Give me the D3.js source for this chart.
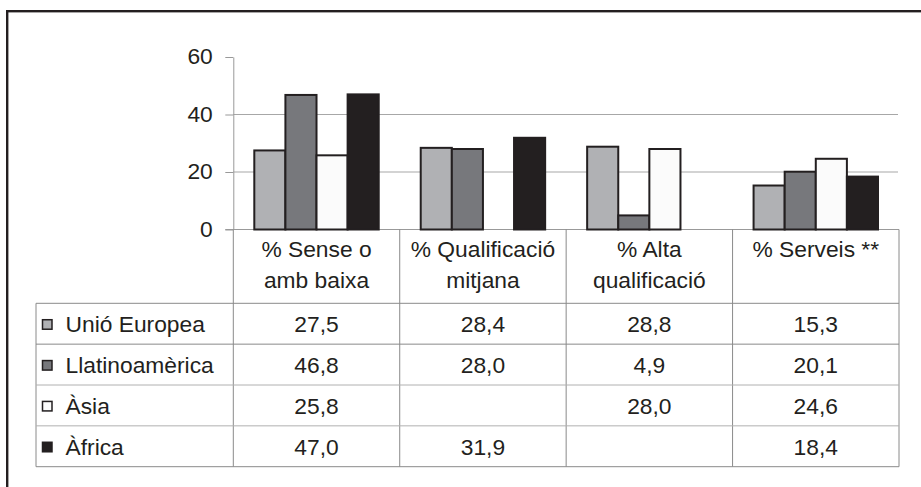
<!DOCTYPE html>
<html><head><meta charset="utf-8">
<script src="https://cdn.jsdelivr.net/npm/d3@7"></script>
<style>
body{margin:0;background:#fff;}
svg text{font-family:"Liberation Sans", Arial, sans-serif;fill:#231f20;}
</style>
</head><body>
<svg id="chart" width="921" height="487"></svg>
<script>
// ---- data ----
const categories = ["% Sense o\namb baixa", "% Qualificació\nmitjana", "% Alta\nqualificació", "% Serveis **"];
const seriesNames = ["Unió Europea", "Llatinoamèrica", "Àsia", "Àfrica"];
const ueValues = [27.5, 28.4, 28.8, 15.3];
const llatValues = [46.8, 28.0, 4.9, 20.1];
const asiaValues = [25.8, null, 28.0, 24.6];
const africaValues = [47.0, 31.9, null, 18.4];
const yTicks = [0, 20, 40, 60];
const seriesColors = ["#b0b1b4", "#77787c", "#fbfbfb", "#231f20"];

const seriesValues = [ueValues, llatValues, asiaValues, africaValues];
const fmt = v => v == null ? "" : v.toFixed(1).replace(".", ",");

// ---- layout ----
const svg = d3.select("#chart");
const plotLeft = 233.3, plotRight = 899, yZero = 229.5, yTop = 57;
const tableLeft = 36, tableTop = 303.3, tableBottom = 466.7;
const FS = 22.8;

const x = d3.scaleBand().domain(categories).range([plotLeft, plotRight]);
const xs = d3.scaleBand().domain(seriesNames).range([21, x.bandwidth() - 21]);
const y = d3.scaleLinear().domain([0, 60]).range([yZero, yTop]);
const row = d3.scaleBand().domain(seriesNames).range([tableTop, tableBottom]);

// frame
svg.append("rect").attr("x", 7.2).attr("y", 11.2).attr("width", 960).attr("height", 520)
  .attr("fill", "none").attr("stroke", "#231f20").attr("stroke-width", 2.4);

// gridlines (20, 40)
svg.append("g").selectAll("line").data(yTicks.filter(t => t > 0 && t < 60)).join("line")
  .attr("x1", plotLeft).attr("x2", plotRight - 1)
  .attr("y1", d => y(d)).attr("y2", d => y(d))
  .attr("stroke", "#a7a7a7").attr("stroke-width", 1);

// y axis
const yAxis = svg.append("g").attr("transform", `translate(${plotLeft},0)`)
  .call(d3.axisLeft(y).tickValues(yTicks).tickSize(8).tickSizeOuter(0).tickPadding(12.5));
yAxis.select(".domain").attr("stroke", "#999");
yAxis.selectAll(".tick line").attr("stroke", "#999");
yAxis.selectAll(".tick text").attr("font-size", FS).attr("fill", "#231f20")
  .attr("font-family", '"Liberation Sans", Arial, sans-serif').attr("dy", "0.3em");

// table lines
const tl = svg.append("g").attr("stroke", "#8a8a8a").attr("stroke-width", 1);
tl.append("line").attr("x1", plotLeft - 8).attr("x2", plotRight).attr("y1", yZero).attr("y2", yZero).attr("stroke", "#999");
const colEdges = categories.map(c => x(c)).concat([plotRight]);
tl.selectAll("line.v").data(colEdges).join("line").attr("class", "v")
  .attr("x1", d => d).attr("x2", d => d).attr("y1", yZero).attr("y2", tableBottom);
tl.append("line").attr("x1", tableLeft).attr("x2", tableLeft).attr("y1", tableTop).attr("y2", tableBottom);
const rowEdges = seriesNames.map(s => row(s)).concat([tableBottom]);
tl.selectAll("line.h").data(rowEdges).join("line").attr("class", "h")
  .attr("x1", tableLeft).attr("x2", plotRight).attr("y1", d => d).attr("y2", d => d)
  .attr("stroke", (d, i) => (i === 2 || i === 3) ? "#b0b0b0" : "#8a8a8a");

// bars
const bars = svg.append("g");
seriesNames.forEach((s, si) => {
  const data = categories.map((c, ci) => ({c, v: seriesValues[si][ci]})).filter(d => d.v != null);
  bars.selectAll(null).data(data).join("rect")
    .attr("x", d => x(d.c) + xs(s))
    .attr("y", d => y(d.v))
    .attr("width", xs.bandwidth())
    .attr("height", d => yZero - y(d.v))
    .attr("fill", seriesColors[si])
    .attr("stroke", "#231f20").attr("stroke-width", 2);
});

// header labels
const hdr = svg.append("g");
categories.forEach(c => {
  const lines = c.split("\n");
  const t = hdr.append("text").attr("text-anchor", "middle").attr("font-size", FS);
  lines.forEach((ln, i) => {
    t.append("tspan").attr("x", x(c) + x.bandwidth() / 2).attr("y", 256.5 + i * 31.5).text(ln);
  });
});

// legend rows
const leg = svg.append("g");
seriesNames.forEach((s, si) => {
  const cy = row(s) + row.bandwidth() / 2;
  leg.append("rect").attr("x", 42.5).attr("y", cy - 4).attr("width", 9.5).attr("height", 9.5)
    .attr("fill", seriesColors[si]).attr("stroke", "#231f20").attr("stroke-width", 1.5);
  leg.append("text").attr("x", 65.5).attr("y", cy + 8.5).attr("font-size", FS).text(s);
  categories.forEach((c, ci) => {
    leg.append("text").attr("x", x(c) + x.bandwidth() / 2).attr("y", cy + 8.5)
      .attr("text-anchor", "middle").attr("font-size", FS).text(fmt(seriesValues[si][ci]));
  });
});
</script>
</body></html>
